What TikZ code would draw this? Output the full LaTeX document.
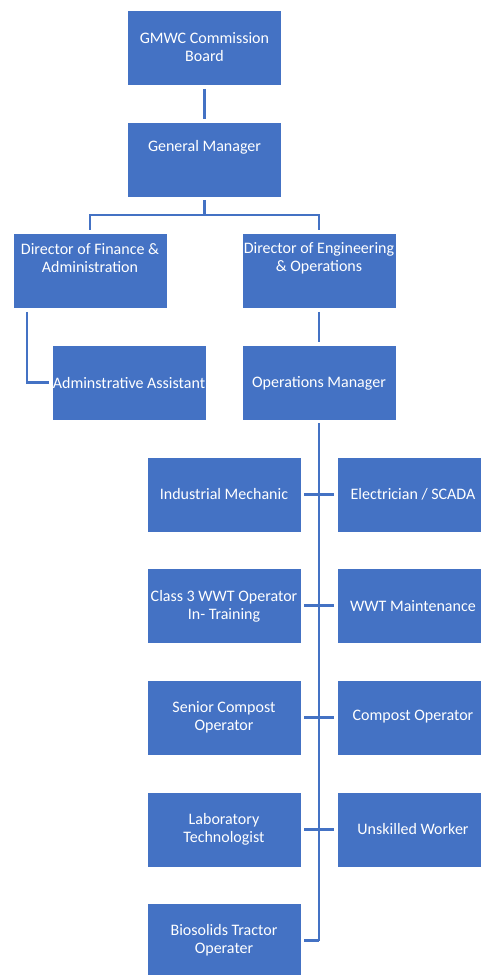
\documentclass[tikz,border=0pt]{standalone}
\usepackage{fontspec}
\setmainfont{Carlito}
\definecolor{obl}{HTML}{4472C4}
\definecolor{lnc}{HTML}{4472C4}
\tikzset{
  box/.style={draw=white, line width=0.8pt, fill=obl, minimum width=154pt, minimum height=75pt, inner sep=0pt},
  txt/.style={text=white, font=\fontsize{16}{18}\selectfont, align=center, inner sep=0pt},
  conn/.style={draw=lnc, line width=2.3pt}
}
\begin{document}
\begin{tikzpicture}[x=1pt,y=-1pt]
\useasboundingbox (0,0) rectangle (481,975);
\clip (0,0) rectangle (481,975);
% boxes
\node[box] (board) at (204.5,48) {};
\node[box] (gm) at (204.5,159.5) {};
\node[box] (dfin) at (90,271) {};
\node[box] (deng) at (319,271) {};
\node[box] (admin) at (129,382.5) {};
\node[box] (ops) at (319,382.5) {};
\node[box] (mech) at (224,494.5) {};
\node[box] (elec) at (414,494.5) {};
\node[box] (cls3) at (224,605.5) {};
\node[box] (wwtm) at (414,605.5) {};
\node[box] (scomp) at (224,717.5) {};
\node[box] (comp) at (414,717.5) {};
\node[box] (lab) at (224,829.5) {};
\node[box] (unsk) at (414,829.5) {};
\node[box] (bio) at (224,940.5) {};
% texts
\node[txt] (tboard) at (204.5,47.5) {GMWC Commission\\Board};
\node[txt] (tgm) at (204.5,147) {General Manager};
\node[txt] (tdfin) at (90,258.5) {Director of Finance \&\\Administration};
\node[txt] (tdeng) at (319,258.5) {Director of Engineering\\\& Operations};
\node[txt] (tadmin) at (129,383) {Adminstrative Assistant};
\node[txt] (tops) at (319,383) {Operations Manager};
\node[txt] (tmech) at (224,494) {Industrial Mechanic};
\node[txt] (telec) at (413,494) {Electrician / SCADA};
\node[txt] (tcls3) at (224,606) {Class 3 WWT Operator\\In- Training};
\node[txt] (twwtm) at (413,606) {WWT Maintenance};
\node[txt] (tscomp) at (224,717) {Senior Compost\\Operator};
\node[txt] (tcomp) at (413,717) {Compost Operator};
\node[txt] (tlab) at (224,829) {Laboratory\\Technologist};
\node[txt] (tunsk) at (413,829) {Unskilled Worker};
\node[txt] (tbio) at (224,940.5) {Biosolids Tractor\\Operater};
% connectors
\coordinate (gmj) at (204.5,215);
\coordinate (vend) at (319,940.5);
\draw[conn, shorten <=3pt, shorten >=3pt] (board.south) -- (gm.north);
\draw[conn, shorten <=3pt] (gm.south) -- (gmj);
\draw[conn, shorten >=3pt] (gmj) -| (dfin.north);
\draw[conn, shorten >=3pt] (gmj) -| (deng.north);
\draw[conn, shorten <=3pt, shorten >=3pt] ([xshift=-63pt]dfin.south) |- (admin.west);
\draw[conn, shorten <=3pt, shorten >=3pt] (deng.south) -- (ops.north);
\draw[conn, shorten <=3pt] (ops.south) -- (vend);
\draw[conn, shorten <=3pt, shorten >=3pt] (mech.east) -- (elec.west);
\draw[conn, shorten <=3pt, shorten >=3pt] (cls3.east) -- (wwtm.west);
\draw[conn, shorten <=3pt, shorten >=3pt] (scomp.east) -- (comp.west);
\draw[conn, shorten <=3pt, shorten >=3pt] (lab.east) -- (unsk.west);
\draw[conn, shorten <=3pt] (bio.east) -- (vend);
\end{tikzpicture}
\end{document}
